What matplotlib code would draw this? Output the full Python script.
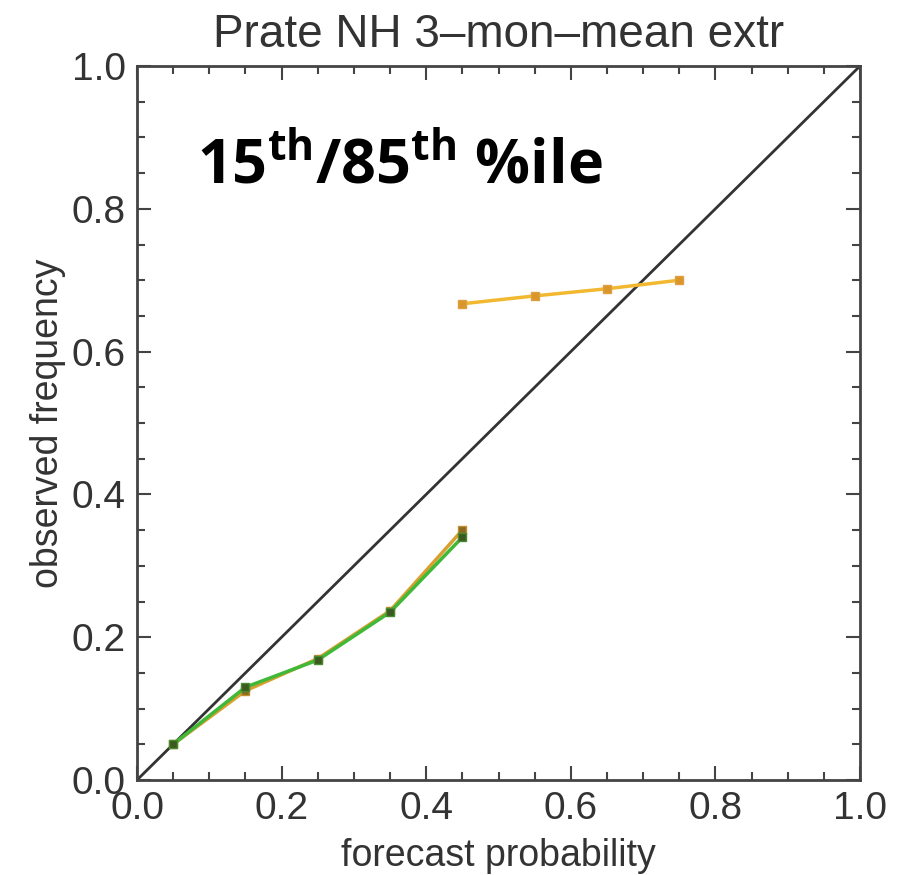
import numpy as np
import matplotlib
matplotlib.use('Agg')
import matplotlib.pyplot as plt
from matplotlib.ticker import MultipleLocator

# reliability diagram data
fc_low = [0.05, 0.15, 0.25, 0.35, 0.45]
obs_low_orange = [0.050, 0.125, 0.170, 0.237, 0.350]
obs_low_green = [0.050, 0.130, 0.168, 0.235, 0.340]
fc_high = [0.45, 0.55, 0.65, 0.75]
obs_high = [0.667, 0.678, 0.688, 0.700]

TITLE = 'Prate NH 3\u2013mon\u2013mean extr'
XLABEL = 'forecast probability'
YLABEL = 'observed frequency'

plt.rcParams['font.family'] = ['Liberation Sans', 'DejaVu Sans']
plt.rcParams['mathtext.fontset'] = 'custom'
plt.rcParams['mathtext.rm'] = 'Open Sans:bold'


def main():
    fig = plt.figure(figsize=(8.97, 8.75), dpi=100)
    ax = fig.add_axes([137 / 897, 1 - 780 / 875, 723 / 897, 714 / 875])

    ax.plot([0, 1], [0, 1], color='#333333', lw=2)
    ax.plot(fc_high, obs_high, color='#f2b830', lw=2.5, marker='s', ms=6,
            mfc='#d9962a', mec='#e0a040')
    ax.plot(fc_low, obs_low_orange, color='#d9a030', lw=2.5, marker='s', ms=6,
            mfc='#8a6a20', mec='#c09030')
    ax.plot(fc_low, obs_low_green, color='#40b838', lw=2.5, marker='s', ms=6,
            mfc='#3a5a20', mec='#4a8a30')

    ax.set_xlim(0, 1)
    ax.set_ylim(0, 1)
    ax.xaxis.set_major_locator(MultipleLocator(0.2))
    ax.yaxis.set_major_locator(MultipleLocator(0.2))
    ax.xaxis.set_minor_locator(MultipleLocator(0.05))
    ax.yaxis.set_minor_locator(MultipleLocator(0.05))
    ax.xaxis.set_major_formatter(lambda v, p: f'{v:.1f}')
    ax.yaxis.set_major_formatter(lambda v, p: f'{v:.1f}')
    ax.tick_params(which='both', direction='in', top=True, right=True,
                   color='#444444', width=1.5, labelsize=28, labelcolor='#333333')
    ax.tick_params(which='major', length=10, pad=8)
    ax.tick_params(which='minor', length=6)
    for s in ax.spines.values():
        s.set_color('#444444')
        s.set_linewidth(2)

    ax.set_title(TITLE, fontsize=33, color='#333333', pad=14)
    ax.set_xlabel(XLABEL, fontsize=27, color='#333333', labelpad=8)
    ax.set_ylabel(YLABEL, fontsize=27, color='#333333', labelpad=4)

    ax.text(0.083, 0.836, r'15$^{\mathrm{th}}$/85$^{\mathrm{th}}$ %ile',
            family='Open Sans', weight='bold', fontsize=44, color='black',
            ha='left', va='baseline', transform=ax.transData)

    fig.savefig('out.png', dpi=100, facecolor='white')


if __name__ == '__main__':
    main()
